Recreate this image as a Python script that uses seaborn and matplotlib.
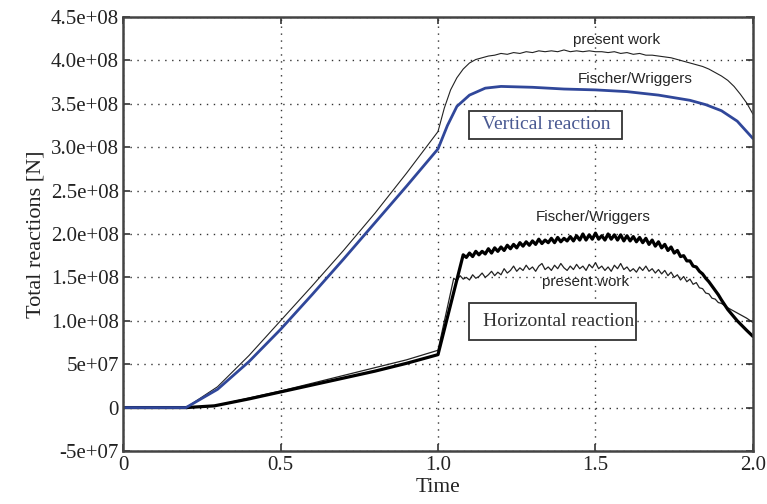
import numpy as np
import matplotlib
matplotlib.use("Agg")
import matplotlib.pyplot as plt
from matplotlib.patches import Rectangle
import seaborn as sns

SCALE = 1e8  # values below are in units of 1e8 N

# vertical reaction, present work
t_vert_present = [0, 0.2, 0.3, 0.4, 0.5, 0.6, 0.7, 0.8, 0.9, 1.0, 1.02, 1.04, 1.06, 1.08,
                  1.10, 1.12, 1.14, 1.16, 1.18, 1.20, 1.22, 1.24, 1.26, 1.28, 1.30,
                  1.32, 1.34, 1.36, 1.38, 1.40, 1.42, 1.44, 1.46, 1.48, 1.50,
                  1.52, 1.54, 1.56, 1.58, 1.60, 1.62, 1.64, 1.66, 1.68, 1.70,
                  1.72, 1.74, 1.76, 1.78, 1.80, 1.82, 1.84, 1.86, 1.88, 1.90,
                  1.92, 1.94, 1.96, 1.98, 2.0]
vert_present = [0, 0, 0.24, 0.60, 1.00, 1.40, 1.81, 2.24, 2.70, 3.18, 3.45, 3.66, 3.80, 3.90,
                3.97, 4.01, 4.03, 4.05, 4.06, 4.08, 4.07, 4.09, 4.08, 4.10, 4.09,
                4.11, 4.10, 4.11, 4.10, 4.12, 4.10, 4.11, 4.10, 4.11, 4.10,
                4.10, 4.09, 4.10, 4.08, 4.09, 4.07, 4.08, 4.06, 4.06, 4.05,
                4.04, 4.03, 4.01, 3.99, 3.97, 3.95, 3.93, 3.90, 3.86, 3.82,
                3.77, 3.70, 3.61, 3.51, 3.38]

# vertical reaction, Fischer/Wriggers
t_vert_fischer = [0, 0.2, 0.3, 0.4, 0.5, 0.6, 0.7, 0.8, 0.9, 1.0, 1.03, 1.06, 1.1, 1.15,
                  1.2, 1.3, 1.4, 1.5, 1.6, 1.7, 1.75, 1.8, 1.85, 1.9, 1.95, 2.0]
vert_fischer = [0, 0, 0.21, 0.53, 0.90, 1.30, 1.71, 2.13, 2.55, 2.98, 3.25, 3.47, 3.60, 3.68,
                3.70, 3.69, 3.67, 3.66, 3.64, 3.60, 3.57, 3.54, 3.49, 3.42, 3.30, 3.10]

# horizontal reaction, smooth loading part
t_hor_start = [0, 0.2, 0.29, 0.4, 0.5, 0.6, 0.7, 0.8, 0.9, 1.0]
hor_fischer_start = [0, 0, 0.02, 0.10, 0.18, 0.26, 0.34, 0.42, 0.51, 0.61]
hor_present_start = [0, 0, 0.02, 0.11, 0.19, 0.28, 0.37, 0.46, 0.55, 0.66]

# horizontal reaction, oscillating part (Fischer/Wriggers), t = 1.08 ... 1.90
t_fischer_osc = np.linspace(1.08, 1.90, 83)
hor_fischer_osc = [
    1.76, 1.73, 1.78, 1.74, 1.80, 1.76, 1.80, 1.77, 1.83, 1.78,
    1.84, 1.80, 1.85, 1.81, 1.87, 1.83, 1.88, 1.84, 1.90, 1.86,
    1.91, 1.87, 1.92, 1.88, 1.94, 1.89, 1.93, 1.90, 1.95, 1.90,
    1.96, 1.91, 1.95, 1.92, 1.97, 1.92, 1.98, 1.93, 2.00, 1.93,
    1.99, 1.94, 2.01, 1.94, 1.98, 1.93, 2.00, 1.94, 1.99, 1.93,
    1.99, 1.92, 1.98, 1.92, 1.97, 1.91, 1.96, 1.90, 1.95, 1.88,
    1.93, 1.86, 1.91, 1.84, 1.88, 1.81, 1.85, 1.78, 1.81, 1.74,
    1.75, 1.69, 1.69, 1.63, 1.62, 1.57, 1.54, 1.49, 1.45, 1.40,
    1.35, 1.30, 1.24]
t_fischer_end = [1.92, 1.95, 1.98, 2.0]
hor_fischer_end = [1.13, 1.00, 0.89, 0.82]

# horizontal reaction, oscillating part (present work), t = 1.05 ... 1.90
t_present_osc = np.linspace(1.05, 1.90, 86)
hor_present_osc = [
    1.49, 1.46, 1.52, 1.48, 1.50, 1.47, 1.53, 1.49, 1.51, 1.55,
    1.50, 1.53, 1.57, 1.52, 1.56, 1.53, 1.60, 1.55, 1.58, 1.63,
    1.57, 1.61, 1.58, 1.64, 1.59, 1.62, 1.57, 1.63, 1.66, 1.59,
    1.62, 1.58, 1.64, 1.60, 1.66, 1.61, 1.58, 1.63, 1.59, 1.65,
    1.60, 1.63, 1.58, 1.65, 1.61, 1.67, 1.60, 1.63, 1.58, 1.62,
    1.57, 1.64, 1.60, 1.66, 1.59, 1.62, 1.57, 1.60, 1.56, 1.62,
    1.58, 1.63, 1.57, 1.60, 1.55, 1.59, 1.54, 1.58, 1.52, 1.56,
    1.50, 1.53, 1.47, 1.51, 1.45, 1.48, 1.42, 1.44, 1.38, 1.37,
    1.32, 1.31, 1.26, 1.25, 1.21, 1.20]
t_present_end = [1.92, 1.94, 1.96, 1.98, 2.0]
hor_present_end = [1.15, 1.11, 1.07, 1.03, 0.98]

y_ticks = [-0.5, 0, 0.5, 1.0, 1.5, 2.0, 2.5, 3.0, 3.5, 4.0, 4.5]
y_tick_labels = ["-5e+07", "0", "5e+07", "1.0e+08", "1.5e+08", "2.0e+08", "2.5e+08",
                 "3.0e+08", "3.5e+08", "4.0e+08", "4.5e+08"]
x_ticks = [0, 0.5, 1.0, 1.5, 2.0]
x_tick_labels = ["0", "0.5", "1.0", "1.5", "2.0"]

sns.set_style("ticks")
plt.rcParams["font.family"] = ["Liberation Serif", "DejaVu Serif"]

fig = plt.figure(figsize=(7.67, 5.04), dpi=100)
ax = fig.add_axes([0.1604, 0.1052, 0.8213, 0.8611])

t_hf = np.concatenate([t_hor_start, t_fischer_osc, t_fischer_end])
y_hf = np.concatenate([hor_fischer_start, hor_fischer_osc, hor_fischer_end]) * SCALE
t_hp = np.concatenate([t_hor_start, t_present_osc, t_present_end])
y_hp = np.concatenate([hor_present_start, hor_present_osc, hor_present_end]) * SCALE

sns.lineplot(x=t_hp, y=y_hp, ax=ax, color="#222222", linewidth=0.9, estimator=None, sort=False)
sns.lineplot(x=t_hf, y=y_hf, ax=ax, color="black", linewidth=2.3, estimator=None, sort=False)
sns.lineplot(x=t_vert_present, y=np.array(vert_present) * SCALE, ax=ax, color="#222222",
             linewidth=0.8, estimator=None, sort=False)
sns.lineplot(x=t_vert_fischer, y=np.array(vert_fischer) * SCALE, ax=ax, color="#30479a",
             linewidth=2.0, estimator=None, sort=False)

ax.set_xlim(0, 2.0)
ax.set_ylim(-0.5 * SCALE, 4.5 * SCALE)
ax.set_xticks(x_ticks)
ax.set_xticklabels(x_tick_labels)
ax.set_yticks(np.array(y_ticks) * SCALE)
ax.set_yticklabels(y_tick_labels)
ax.tick_params(direction="in", length=5, width=1.2, labelsize=15, colors="#333333",
               top=True, right=True, labelcolor="#222222")
ax.tick_params(axis="y", pad=3)
ax.grid(True, linestyle=(0, (1, 4)), color="#333333", linewidth=1.0)
for s in ax.spines.values():
    s.set_color("#444444")
    s.set_linewidth(1.8)

ax.set_xlabel("Time", fontsize=15.5, color="#222222", labelpad=2)
ax.set_ylabel("Total reactions [N]", fontsize=16, color="#222222", labelpad=4)

sans = ["Liberation Sans", "DejaVu Sans"]
ax.text(1.568, 4.24 * SCALE, "present work", family=sans, fontsize=11, ha="center", va="center")
ax.text(1.625, 3.78 * SCALE, "Fischer/Wriggers", family=sans, fontsize=11, ha="center", va="center")
ax.text(1.492, 2.19 * SCALE, "Fischer/Wriggers", family=sans, fontsize=11, ha="center", va="center")
ax.text(1.467, 1.45 * SCALE, "present work", family=sans, fontsize=11, ha="center", va="center")

# framed labels (frames placed in axes fraction)
ax.add_patch(Rectangle((0.549, 0.719), 0.243, 0.0645, transform=ax.transAxes,
                       fc="white", ec="#333333", lw=1.3, zorder=3))
ax.text(1.343, 3.26 * SCALE, "Vertical reaction", fontsize=14, color="#4a5a92",
        ha="center", va="center", zorder=4)
ax.add_patch(Rectangle((0.549, 0.256), 0.265, 0.085, transform=ax.transAxes,
                       fc="white", ec="#333333", lw=1.3, zorder=3))
ax.text(1.384, 0.99 * SCALE, "Horizontal reaction", fontsize=14, color="#333333",
        ha="center", va="center", zorder=4)

fig.savefig("out.png", dpi=100)
